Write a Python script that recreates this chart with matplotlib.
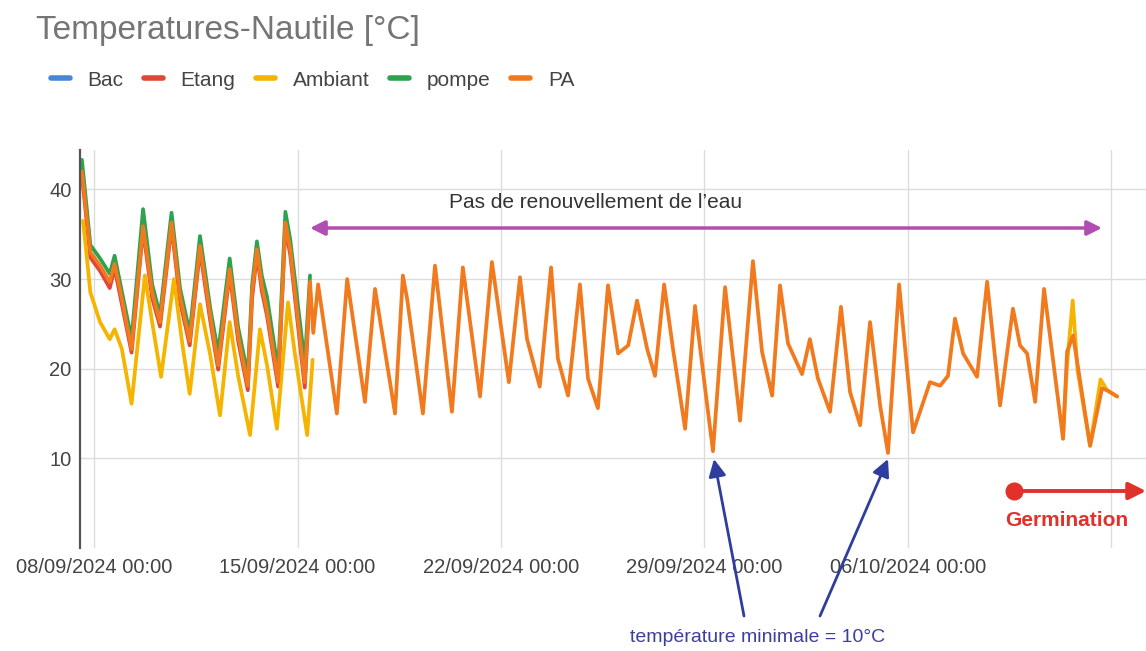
import numpy as np
import matplotlib
matplotlib.use('Agg')
import matplotlib.pyplot as plt
from matplotlib.lines import Line2D
import pandas as pd

plt.rcParams['font.family'] = ['Liberation Sans', 'DejaVu Sans']

# first week: PA, Etang and pompe share the same time stamps
t_week1 = ['2024-09-07 14:00', '2024-09-07 21:00', '2024-09-08 05:00', '2024-09-08 13:00',
           '2024-09-08 17:00', '2024-09-08 23:00', '2024-09-09 07:00', '2024-09-09 16:30',
           '2024-09-10 00:00', '2024-09-10 06:30', '2024-09-10 16:00', '2024-09-10 23:00',
           '2024-09-11 07:00', '2024-09-11 15:30', '2024-09-12 00:00', '2024-09-12 06:30',
           '2024-09-12 16:00', '2024-09-12 23:00', '2024-09-13 07:00', '2024-09-13 10:30',
           '2024-09-13 14:30', '2024-09-13 18:30', '2024-09-13 22:50', '2024-09-14 08:00',
           '2024-09-14 14:00', '2024-09-14 18:00', '2024-09-15 06:00', '2024-09-15 10:20']
pa_week1 = [42.0, 33.0, 31.5, 29.7, 31.7, 27.8, 22.2, 35.9, 28.5, 25.2, 36.3, 28.1, 23.1, 33.7,
            25.9, 20.4, 31.1, 23.7, 18.1, 28.5, 33.3, 29.3, 26.5, 18.5, 36.3, 33.3, 18.5, 29.7]
etang = [41.6, 32.4, 30.9, 29.0, 31.2, 27.2, 21.8, 35.5, 27.9, 24.7, 35.9, 27.5, 22.6, 33.2,
         25.3, 19.9, 30.6, 23.1, 17.6, 27.8, 32.8, 28.7, 25.9, 18.0, 35.8, 32.7, 17.9, 29.2]
pompe = [43.3, 33.8, 32.3, 30.6, 32.6, 28.6, 23.3, 37.8, 29.4, 26.0, 37.4, 29.0, 24.0, 34.8,
         26.7, 21.8, 32.3, 24.6, 19.3, 29.3, 34.2, 30.4, 28.0, 19.8, 37.5, 34.4, 20.6, 30.4]

# PA after 15/09 (only series still visible)
t_pa_rest = ['2024-09-15 13:00', '2024-09-15 17:00', '2024-09-16 08:30', '2024-09-16 17:00',
             '2024-09-17 07:40', '2024-09-17 16:00', '2024-09-18 08:30', '2024-09-18 15:00',
             '2024-09-18 18:30', '2024-09-19 07:30', '2024-09-19 17:30', '2024-09-20 07:30',
             '2024-09-20 16:30', '2024-09-21 06:40', '2024-09-21 16:30', '2024-09-22 06:30',
             '2024-09-22 15:40', '2024-09-22 21:30', '2024-09-23 08:00', '2024-09-23 17:20',
             '2024-09-23 23:00', '2024-09-24 07:20', '2024-09-24 17:10', '2024-09-24 23:50',
             '2024-09-25 08:00', '2024-09-25 16:20', '2024-09-26 00:40', '2024-09-26 09:00',
             '2024-09-26 16:20', '2024-09-27 00:40', '2024-09-27 07:10', '2024-09-27 14:40',
             '2024-09-27 22:00', '2024-09-28 08:00', '2024-09-28 16:10', '2024-09-29 00:30',
             '2024-09-29 07:00', '2024-09-29 17:00', '2024-09-30 05:20', '2024-09-30 16:00',
             '2024-09-30 23:30', '2024-10-01 07:50', '2024-10-01 14:20', '2024-10-01 21:00',
             '2024-10-02 08:30', '2024-10-02 15:00', '2024-10-02 21:40', '2024-10-03 07:40',
             '2024-10-03 16:40', '2024-10-04 00:10', '2024-10-04 08:30', '2024-10-04 16:40',
             '2024-10-05 01:00', '2024-10-05 07:30', '2024-10-05 16:40', '2024-10-06 04:10',
             '2024-10-06 18:10', '2024-10-07 02:30', '2024-10-07 09:00', '2024-10-07 14:50',
             '2024-10-07 21:30', '2024-10-08 09:00', '2024-10-08 17:20', '2024-10-09 04:00',
             '2024-10-09 14:40', '2024-10-09 20:30', '2024-10-10 02:20', '2024-10-10 09:00',
             '2024-10-10 16:20', '2024-10-11 08:00', '2024-10-11 11:20', '2024-10-11 16:20',
             '2024-10-12 06:20', '2024-10-12 16:10', '2024-10-12 20:20', '2024-10-13 04:40']
pa_rest = [24.0, 29.4, 15.0, 30.0, 16.3, 28.9, 15.0, 30.4, 27.8, 15.0, 31.5, 15.2,
           31.3, 16.9, 31.9, 18.5, 30.2, 23.3, 18.0, 31.3, 21.1, 17.0, 29.4, 18.9,
           15.6, 29.3, 21.7, 22.6, 27.6, 22.2, 19.2, 29.4, 22.2, 13.3, 27.0, 17.8,
           10.8, 29.1, 14.2, 32.0, 21.9, 17.0, 29.3, 22.8, 19.4, 23.3, 18.9, 15.2,
           26.9, 17.4, 13.7, 25.2, 15.9, 10.6, 29.4, 12.9, 18.5, 18.1, 19.2, 25.6,
           21.7, 19.1, 29.7, 15.9, 26.7, 22.6, 21.7, 16.3, 28.9, 12.2, 21.9, 23.7,
           11.4, 17.8, 17.6, 16.9]

# Ambiant: visible in the first week and again at the very end
t_amb1 = ['2024-09-07 15:00', '2024-09-07 21:00', '2024-09-08 05:00', '2024-09-08 13:00',
          '2024-09-08 17:00', '2024-09-08 23:00', '2024-09-09 07:00', '2024-09-09 18:00',
          '2024-09-10 00:00', '2024-09-10 07:20', '2024-09-10 18:00', '2024-09-11 00:40',
          '2024-09-11 07:00', '2024-09-11 15:30', '2024-09-12 00:00', '2024-09-12 08:00',
          '2024-09-12 16:00', '2024-09-12 23:00', '2024-09-13 08:50', '2024-09-13 17:00',
          '2024-09-13 22:50', '2024-09-14 07:00', '2024-09-14 16:10', '2024-09-14 22:00',
          '2024-09-15 08:00', '2024-09-15 12:30']
amb1 = [36.5, 28.5, 25.2, 23.3, 24.4, 22.2, 16.1, 30.4, 25.2, 19.1, 30.0, 23.0, 17.2,
        27.2, 21.5, 14.8, 25.2, 19.2, 12.6, 24.4, 20.4, 13.3, 27.4, 21.5, 12.6, 21.0]
t_amb2 = ['2024-10-11 08:00', '2024-10-11 11:20', '2024-10-11 16:00', '2024-10-11 20:00',
          '2024-10-12 06:20', '2024-10-12 15:00', '2024-10-12 20:20', '2024-10-13 04:40']
amb2 = [12.2, 20.5, 27.6, 19.8, 11.4, 18.8, 17.6, 16.9]

series_names = ['Bac', 'Etang', 'Ambiant', 'pompe', 'PA']
colors = ['#4a86d8', '#e0463a', '#f5b400', '#2ea24f', '#f27a1e']

W, H = 1146, 651


def px(x, y):
    return (x / W, 1 - y / H)


fig = plt.figure(figsize=(W / 100, H / 100), dpi=100)
ax = fig.add_axes([80 / W, 1 - 548 / H, 1 - 80 / W, (548 - 150) / H])

tw = pd.to_datetime(t_week1)
tp = pd.to_datetime(t_week1 + t_pa_rest)
pa = pa_week1 + pa_rest

lw = 2.7
kw = dict(lw=lw, solid_joinstyle='round', solid_capstyle='round')
h_bac, = ax.plot([], [], color=colors[0], label='Bac', **kw)
h_et, = ax.plot(tw, etang, color=colors[1], label='Etang', **kw)
h_amb, = ax.plot(pd.to_datetime(t_amb1), amb1, color=colors[2], label='Ambiant', **kw)
ax.plot(pd.to_datetime(t_amb2), amb2, color=colors[2], **kw)
h_po, = ax.plot(tw, pompe, color=colors[3], label='pompe', **kw)
h_pa, = ax.plot(tp, pa, color=colors[4], label='PA', **kw)

ax.set_ylim(0, 44.4)
ax.set_xlim(pd.Timestamp('2024-09-07 12:26'), pd.Timestamp('2024-10-14 04:30'))
ax.set_yticks([10, 20, 30, 40])
xt = pd.to_datetime(['2024-09-08', '2024-09-15', '2024-09-22', '2024-09-29',
                     '2024-10-06', '2024-10-13'])
ax.set_xticks(xt)
ax.set_xticklabels([d.strftime('%d/%m/%Y %H:%M') for d in xt[:-1]] + [''])
ax.grid(True, color='#dcdcdc', lw=1)
ax.set_axisbelow(True)
for s in ['top', 'right', 'bottom']:
    ax.spines[s].set_visible(False)
ax.spines['left'].set_color('#555555')
ax.spines['left'].set_linewidth(1.6)
ax.tick_params(axis='both', length=0, labelsize=14.5, labelcolor='#444444')
ax.tick_params(axis='y', pad=6)
ax.tick_params(axis='x', pad=7)

fig.text(36 / W, 1 - 30 / H, 'Temperatures-Nautile [°C]', fontsize=24, color='#757575',
         va='center', ha='left')
leg = fig.legend(handles=[h_bac, h_et, h_amb, h_po, h_pa], loc='center left',
                 bbox_to_anchor=px(32, 80), ncol=5, frameon=False, fontsize=15,
                 handlelength=0.9, handletextpad=0.85, columnspacing=1.0,
                 labelcolor='#444444')
for h in leg.legend_handles:
    h.set_linewidth(4)

# annotation: no water renewal
ax.annotate('', xy=px(1102, 228), xytext=px(310, 228), xycoords='figure fraction',
            textcoords='figure fraction',
            arrowprops=dict(arrowstyle='<|-|>', color='#b24db2', lw=2.5, mutation_scale=22,
                            shrinkA=0, shrinkB=0))
fig.text(*px(596, 203), 'Pas de renouvellement de l’eau', fontsize=15, color='#333333',
         ha='center', va='center')

# annotation: minimum temperature
for tip, base in [((714, 459), (744, 616)), ((888, 459), (820, 616))]:
    ax.annotate('', xy=px(*tip), xytext=px(*base), xycoords='figure fraction',
                textcoords='figure fraction', annotation_clip=False,
                arrowprops=dict(arrowstyle='-|>', color='#2e3d9e', lw=2, mutation_scale=26,
                                shrinkA=0, shrinkB=0))
fig.text(*px(758, 638), 'température minimale = 10°C', fontsize=14, color='#3d3f9f',
         ha='center', va='center')

# annotation: germination
ax.annotate('', xy=px(1146, 491), xytext=px(1014, 491), xycoords='figure fraction',
            textcoords='figure fraction', annotation_clip=False,
            arrowprops=dict(arrowstyle='-|>', color='#e2302a', lw=2.8, mutation_scale=26,
                            shrinkA=0, shrinkB=0))
fig.add_artist(Line2D([1014 / W], [1 - 491 / H], marker='o', markersize=12,
                      color='#e2302a', transform=fig.transFigure))
fig.text(*px(1067, 521), 'Germination', fontsize=15, color='#e2302a', fontweight='bold',
         ha='center', va='center')

fig.savefig('out.png', dpi=100)
